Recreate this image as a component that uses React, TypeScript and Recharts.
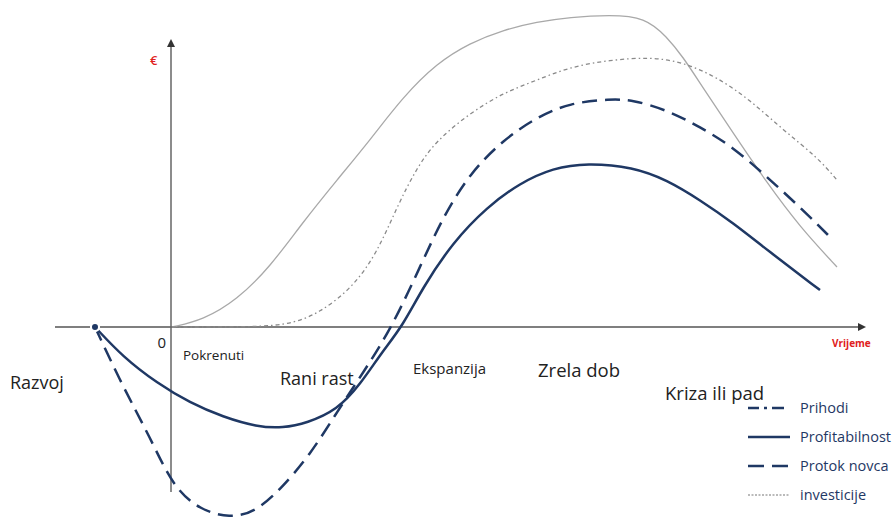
import React from 'react'
import {
  LineChart,
  Line,
  XAxis,
  YAxis,
  ReferenceLine,
  ReferenceDot,
  Legend,
} from 'recharts'

// time (t) and value (v), pairs of [t, v]
const prihodi: [number, number][] = [
  [0, 0], [3.1, 2.3], [6.5, 9], [9.8, 20], [13.1, 35], [16.5, 49], [19.8, 62.3],
  [23.1, 76.7], [26.5, 88], [29.8, 94.7], [33.1, 99], [36.5, 101.7], [39.8, 103.3],
  [43.8, 104], [47.3, 103.3], [49.5, 96.7], [51.1, 90], [52.8, 81.3], [56.1, 64.7],
  [59.5, 48], [62.8, 33.3], [66.5, 20],
]

const investicije: [number, number][] = [
  [0, 0], [5.8, 0], [11.5, 0.3], [14.8, 4.7], [18.1, 13.3], [20.5, 24.7], [22.5, 40],
  [24.5, 53.3], [26.5, 62.3], [29.8, 71.3], [33.1, 78], [36.5, 82.3], [39.8, 86.7],
  [43.8, 89], [47.8, 90], [51.1, 88.3], [54.5, 83.3], [57.8, 75.7], [61.1, 65.7],
  [64.5, 56.7], [66.5, 49],
]

const protokNovca: [number, number][] = [
  [-7.7, 0], [-4.9, -20], [-2.2, -36.7], [0.1, -53.3], [2.8, -61], [5.8, -63.7],
  [8.3, -61.7], [10.8, -54.3], [13.8, -42.7], [16.5, -28.3], [19.3, -14.3], [22, 0],
  [24.8, 20], [27.1, 36.7], [29.8, 51.3], [33.1, 62.3], [36.5, 70], [39.8, 74.7],
  [43.8, 76], [46.1, 75.7], [49.5, 72.3], [52.8, 66.7], [56.1, 60], [59.5, 50],
  [62.8, 40], [66.1, 29],
]

const profitabilnost: [number, number][] = [
  [-7.7, 0], [-4.9, -10], [-1.5, -18.7], [1.8, -25.3], [5.1, -30], [8.5, -33.3],
  [11.1, -33.7], [13.5, -32], [16.5, -27.7], [18.8, -19.3], [21, -8.3], [23, 0],
  [25.1, 13.3], [28.1, 28.3], [31.5, 40], [34.8, 48], [38.1, 53], [41.5, 54.7],
  [46.1, 53.3], [49.5, 49], [52.8, 42.3], [56.1, 34.7], [59.5, 25.7], [64.8, 12.3],
]

const stages = ['Razvoj', 'Pokrenuti', 'Rani rast', 'Ekspanzija', 'Zrela dob', 'Kriza ili pad']
const legendNames = ['Prihodi', 'Profitabilnost', 'Protok novca', 'investicije']
const yLabel = '€'
const xLabel = 'Vrijeme'
const originLabel = '0'

const toPoints = (pairs: [number, number][]) => pairs.map(([t, v]) => ({ t, v }))

const NAVY = '#1F3864'
const FONT = '"Open Sans", "Noto Sans", sans-serif'

// where each stage label sits, in chart units
const stageLayout = [
  { t: -16.2, v: -18.3, size: 18 },
  { t: 1.1, v: -9.3, size: 13.5 },
  { t: 10.8, v: -17, size: 18 },
  { t: 24.1, v: -13.7, size: 15 },
  { t: 36.6, v: -14.3, size: 18.5 },
  { t: 49.3, v: -22, size: 18.5 },
]

const legendStyles = [
  { stroke: NAVY, width: 2.5, dash: '11 5 3 5 12 20' },
  { stroke: NAVY, width: 2.5, dash: undefined },
  { stroke: NAVY, width: 2.5, dash: '16 8' },
  { stroke: '#777', width: 1.2, dash: '2 1.5' },
]

function textShape(value: string, size: number, color: string, weight = 400, anchor = 'start') {
  return (p: any) => (
    <text
      x={p.cx}
      y={p.cy}
      fontSize={size}
      fontWeight={weight}
      fill={color}
      fontFamily={FONT}
      textAnchor={anchor}
      dominantBaseline="central"
    >
      {value}
    </text>
  )
}

function LegendBox() {
  return (
    <div style={{ fontFamily: FONT, fontSize: 14.5, fontWeight: 500, color: NAVY }}>
      {legendNames.map((name, i) => (
        <div key={name} style={{ display: 'flex', alignItems: 'center', height: 29 }}>
          <svg width={54} height={10}>
            <line
              x1={2}
              y1={5}
              x2={44}
              y2={5}
              stroke={legendStyles[i].stroke}
              strokeWidth={legendStyles[i].width}
              strokeDasharray={legendStyles[i].dash}
            />
          </svg>
          <span>{name}</span>
        </div>
      ))}
    </div>
  )
}

export default function App() {
  return (
    <div style={{ position: 'absolute', left: 0, top: 0, width: 895, height: 521, background: '#fff' }}>
      <LineChart width={895} height={521} margin={{ top: 0, right: 0, bottom: 0, left: 0 }}>
        <XAxis dataKey="t" type="number" domain={[-17.2, 72.3]} hide allowDataOverflow />
        <YAxis dataKey="v" type="number" domain={[-64.67, 109]} hide allowDataOverflow />

        <ReferenceLine
          segment={[{ x: -11.7, y: 0 }, { x: 68.6, y: 0 }]}
          stroke="#555"
          strokeWidth={1.5}
        />
        <ReferenceLine
          segment={[{ x: -0.1, y: -55 }, { x: -0.1, y: 94 }]}
          stroke="#666"
          strokeWidth={1.5}
        />
        <ReferenceDot
          x={68.6}
          y={0}
          r={0}
          shape={(p: any) => (
            <polygon points={`${p.cx},${p.cy - 4} ${p.cx + 8},${p.cy} ${p.cx},${p.cy + 4}`} fill="#333" />
          )}
        />
        <ReferenceDot
          x={-0.1}
          y={96}
          r={0}
          shape={(p: any) => (
            <polygon points={`${p.cx - 4},${p.cy + 8} ${p.cx},${p.cy} ${p.cx + 4},${p.cy + 8}`} fill="#333" />
          )}
        />

        <Line
          data={toPoints(prihodi)}
          dataKey="v"
          name="Prihodi"
          type="basis"
          stroke="#a9a9a9"
          strokeWidth={1.3}
          dot={false}
          isAnimationActive={false}
        />
        <Line
          data={toPoints(investicije)}
          dataKey="v"
          name="investicije"
          type="basis"
          stroke="#8a8a8a"
          strokeWidth={1.3}
          strokeDasharray="4 3 1.5 3"
          dot={false}
          isAnimationActive={false}
        />
        <Line
          data={toPoints(protokNovca)}
          dataKey="v"
          name="Protok novca"
          type="basis"
          stroke={NAVY}
          strokeWidth={2.5}
          strokeDasharray="15 8"
          dot={false}
          isAnimationActive={false}
        />
        <Line
          data={toPoints(profitabilnost)}
          dataKey="v"
          name="Profitabilnost"
          type="basis"
          stroke={NAVY}
          strokeWidth={2.5}
          dot={false}
          isAnimationActive={false}
        />

        {stages.map((s, i) => (
          <ReferenceDot
            key={s}
            x={stageLayout[i].t}
            y={stageLayout[i].v}
            r={0}
            shape={textShape(s, stageLayout[i].size, '#222')}
          />
        ))}
        <ReferenceDot x={-2.2} y={89} r={0} shape={textShape(yLabel, 13, '#e02020', 600)} />
        <ReferenceDot x={-0.6} y={-5} r={0} shape={textShape(originLabel, 15, '#222', 400, 'end')} />
        <ReferenceDot x={66.0} y={-5.3} r={0} shape={textShape(xLabel, 10, '#e02020', 700)} />

        <Legend
          layout="vertical"
          align="center"
          verticalAlign="middle"
          content={() => <LegendBox />}
          wrapperStyle={{ position: 'absolute', left: 746, top: 393, width: 150 }}
        />
      </LineChart>
    </div>
  )
}
